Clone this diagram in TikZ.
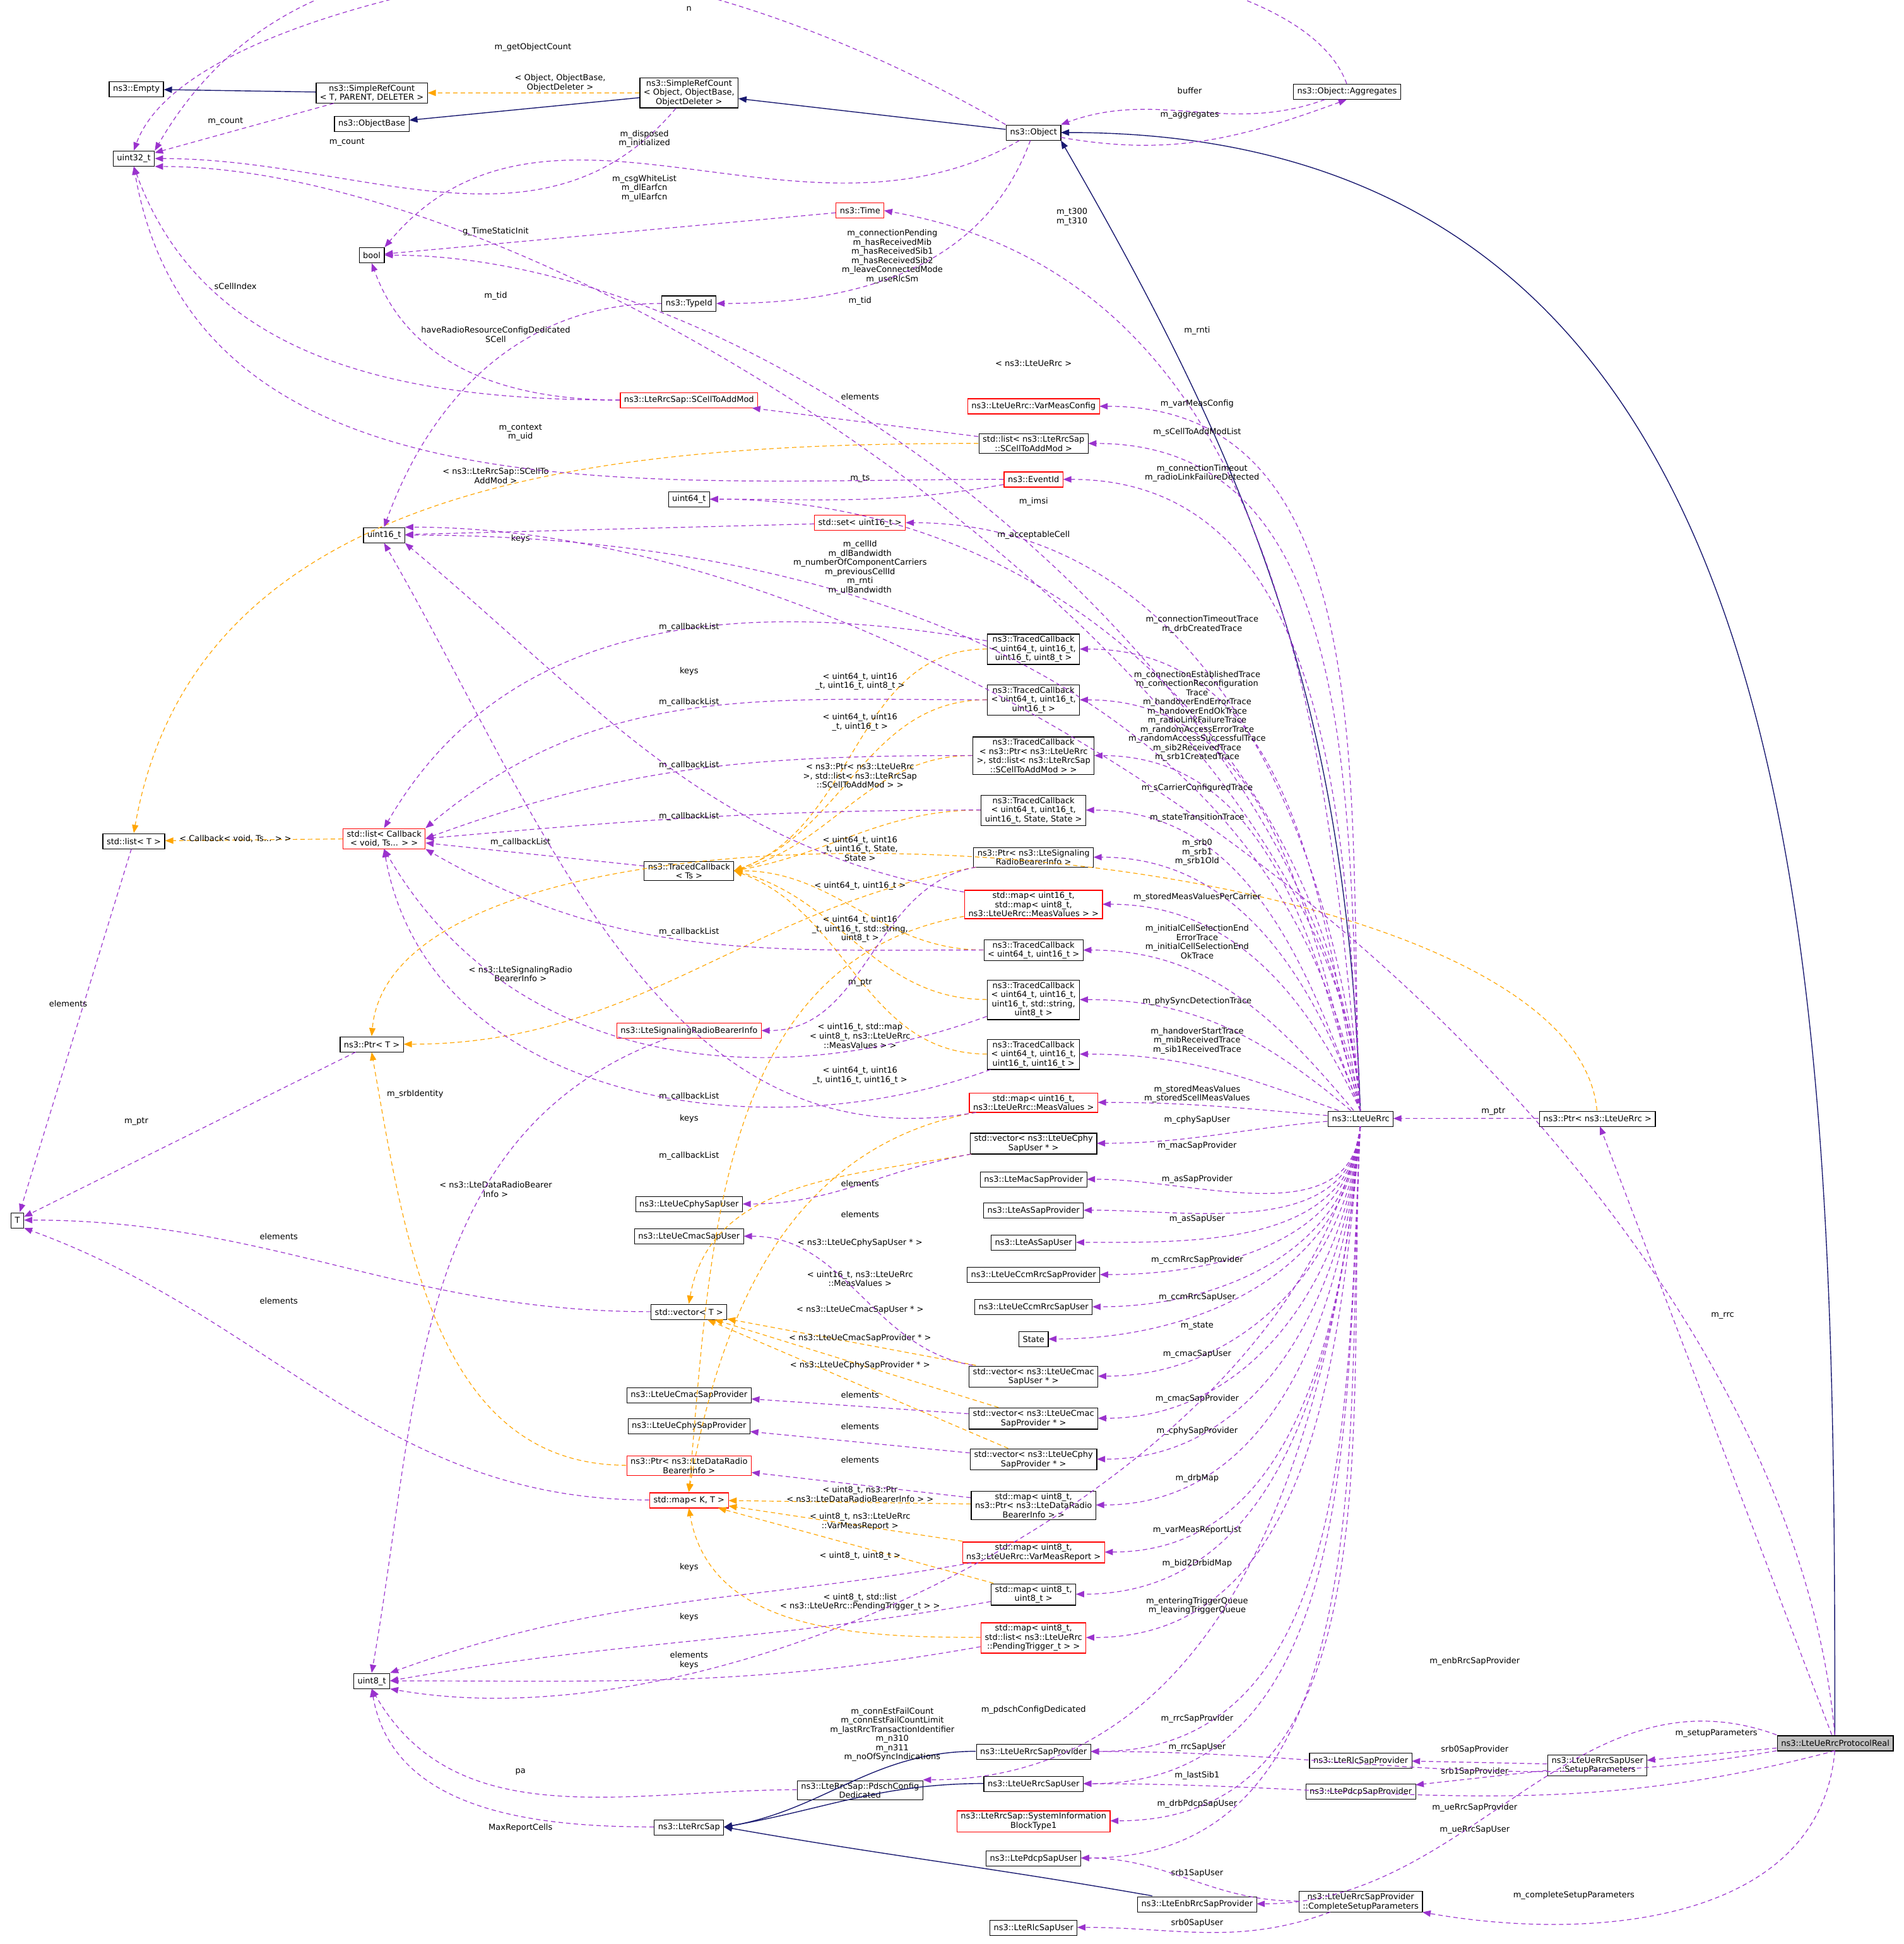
\documentclass[tikz,border=0pt]{standalone}
\usepackage{fontspec}
\setmainfont{DejaVu Sans}
\usetikzlibrary{arrows.meta}
\definecolor{memc}{HTML}{9A32CD}
\definecolor{tplc}{HTML}{FFA500}
\definecolor{inhc}{HTML}{191970}
\tikzset{
  cls/.style={draw, fill=white, line width=1.2pt, align=center, inner xsep=6pt, inner ysep=3pt, minimum height=24pt, font=\fontsize{13}{14.5}\selectfont},
  clsred/.style={cls, draw=red},
  mem/.style={draw=memc, line width=1.2pt, dash pattern=on 7pt off 5pt, -{Triangle[length=13pt,width=10pt]}},
  tpl/.style={mem, draw=tplc, -{Triangle[length=13pt,width=10pt,open,fill=tplc]}},
  inh/.style={draw=inhc, line width=1.4pt, -{Triangle[length=13pt,width=10pt]}},
  lbl/.style={align=center, inner sep=1pt, font=\fontsize{13}{14.5}\selectfont}
}
\newcommand{\elabel}[3]{\node[lbl] at (#1,#2) {#3};}
\begin{document}
\begin{tikzpicture}[x=0.25pt, y=-0.25pt, scale=7.852]
\useasboundingbox (0,0) rectangle (1536,1569);

% left side classes
\node[cls] (empty) at (110,72) {ns3::Empty};
\node[cls] (srcT) at (300,75) {ns3::SimpleRefCount\\< T, PARENT, DELETER >};
\node[cls] (objbase) at (300,100) {ns3::ObjectBase};
\node[cls] (u32) at (108,128) {uint32\_t};
\node[cls] (srcObj) at (556,75) {ns3::SimpleRefCount\\< Object, ObjectBase,\\ObjectDeleter >};
\node[cls] (object) at (834,107) {ns3::Object};
\node[cls] (aggr) at (1087,74) {ns3::Object::Aggregates};
\node[cls] (bool) at (300,206) {bool};
\node[clsred] (time) at (694,170) {ns3::Time};
\node[cls] (typeid) at (556,245) {ns3::TypeId};
\node[clsred] (scell) at (556,323) {ns3::LteRrcSap::SCellToAddMod};
\node[clsred] (varmeas) at (834,328) {ns3::LteUeRrc::VarMeasConfig};
\node[cls] (scelllist) at (834,358) {std::list< ns3::LteRrcSap\\::SCellToAddMod >};
\node[clsred] (eventid) at (834,387) {ns3::EventId};
\node[cls] (u64) at (556,403) {uint64\_t};
\node[clsred] (set16) at (694,422) {std::set< uint16\_t >};
\node[cls] (u16) at (310,432) {uint16\_t};
\node[cls] (listT) at (108,679) {std::list< T >};
\node[clsred] (listcb) at (310,677) {std::list< Callback\\< void, Ts... > >};
\node[cls] (tcTs) at (556,703) {ns3::TracedCallback\\< Ts >};
\node[cls] (ptrT) at (300,843) {ns3::Ptr< T >};
\node[clsred] (srbinfo) at (556,832) {ns3::LteSignalingRadioBearerInfo};
\node[cls] (T) at (14,985) {T};
\node[cls] (cphyuser) at (556,972) {ns3::LteUeCphySapUser};
\node[cls] (cmacuser) at (556,998) {ns3::LteUeCmacSapUser};
\node[cls] (vecT) at (556,1059) {std::vector< T >};
\node[cls] (cmacprov) at (556,1126) {ns3::LteUeCmacSapProvider};
\node[cls] (cphyprov) at (556,1151) {ns3::LteUeCphySapProvider};
\node[clsred] (ptrdrb) at (556,1183) {ns3::Ptr< ns3::LteDataRadio\\BearerInfo >};
\node[clsred] (mapKT) at (556,1211) {std::map< K, T >};
\node[cls] (u8) at (300,1357) {uint8\_t};
\node[cls] (pdsch) at (694,1445) {ns3::LteRrcSap::PdschConfig\\Dedicated};
\node[cls] (rrcsap) at (556,1475) {ns3::LteRrcSap};

% centre column
\node[cls] (tc1) at (834,524) {ns3::TracedCallback\\< uint64\_t, uint16\_t,\\uint16\_t, uint8\_t >};
\node[cls] (tc2) at (834,565) {ns3::TracedCallback\\< uint64\_t, uint16\_t,\\uint16\_t >};
\node[cls] (tc3) at (834,610) {ns3::TracedCallback\\< ns3::Ptr< ns3::LteUeRrc\\>, std::list< ns3::LteRrcSap\\::SCellToAddMod > >};
\node[cls] (tc4) at (834,654) {ns3::TracedCallback\\< uint64\_t, uint16\_t,\\uint16\_t, State, State >};
\node[cls] (ptrsrb) at (834,692) {ns3::Ptr< ns3::LteSignaling\\RadioBearerInfo >};
\node[clsred] (mapmap) at (834,730) {std::map< uint16\_t,\\std::map< uint8\_t,\\ns3::LteUeRrc::MeasValues > >};
\node[cls] (tc5) at (834,767) {ns3::TracedCallback\\< uint64\_t, uint16\_t >};
\node[cls] (tc6) at (834,807) {ns3::TracedCallback\\< uint64\_t, uint16\_t,\\uint16\_t, std::string,\\uint8\_t >};
\node[cls] (tc7) at (834,851) {ns3::TracedCallback\\< uint64\_t, uint16\_t,\\uint16\_t, uint16\_t >};
\node[clsred] (mapmeas) at (834,890) {std::map< uint16\_t,\\ns3::LteUeRrc::MeasValues >};
\node[cls] (veccphyu) at (834,923) {std::vector< ns3::LteUeCphy\\SapUser * >};
\node[cls] (macprov) at (834,952) {ns3::LteMacSapProvider};
\node[cls] (asprov) at (834,977) {ns3::LteAsSapProvider};
\node[cls] (asuser) at (834,1003) {ns3::LteAsSapUser};
\node[cls] (ccmprov) at (834,1029) {ns3::LteUeCcmRrcSapProvider};
\node[cls] (ccmuser) at (834,1055) {ns3::LteUeCcmRrcSapUser};
\node[cls] (state) at (834,1081) {State};
\node[cls] (veccmacu) at (834,1111) {std::vector< ns3::LteUeCmac\\SapUser * >};
\node[cls] (veccmacp) at (834,1145) {std::vector< ns3::LteUeCmac\\SapProvider * >};
\node[cls] (veccphyp) at (834,1178) {std::vector< ns3::LteUeCphy\\SapProvider * >};
\node[cls] (mapdrb) at (834,1215) {std::map< uint8\_t,\\ns3::Ptr< ns3::LteDataRadio\\BearerInfo > >};
\node[clsred] (mapvmr) at (834,1253) {std::map< uint8\_t,\\ns3::LteUeRrc::VarMeasReport >};
\node[cls] (map88) at (834,1287) {std::map< uint8\_t,\\uint8\_t >};
\node[clsred] (mappend) at (834,1322) {std::map< uint8\_t,\\std::list< ns3::LteUeRrc\\::PendingTrigger\_t > >};
\node[cls] (uersprov) at (834,1414) {ns3::LteUeRrcSapProvider};
\node[cls] (uersuser) at (834,1440) {ns3::LteUeRrcSapUser};
\node[clsred] (sib1) at (834,1470) {ns3::LteRrcSap::SystemInformation\\BlockType1};
\node[cls] (pdcpuser) at (834,1500) {ns3::LtePdcpSapUser};
\node[cls] (enbprov) at (966,1537) {ns3::LteEnbRrcSapProvider};
\node[cls] (rlcuser) at (834,1556) {ns3::LteRlcSapUser};

% right side
\node[cls] (uerrc) at (1098,903) {ns3::LteUeRrc};
\node[cls] (ptrrrc) at (1289,903) {ns3::Ptr< ns3::LteUeRrc >};
\node[cls, fill=black!25] (proto) at (1481,1407) {ns3::LteUeRrcProtocolReal};
\node[cls] (setup) at (1289,1425) {ns3::LteUeRrcSapUser\\::SetupParameters};
\node[cls] (rlcprov) at (1098,1421) {ns3::LteRlcSapProvider};
\node[cls] (pdcpprov) at (1098,1446) {ns3::LtePdcpSapProvider};
\node[cls] (complete) at (1098,1535) {ns3::LteUeRrcSapProvider\\::CompleteSetupParameters};

% inheritance
\draw[inh] (srcT) -- (empty);
\draw[inh] (srcObj) -- (objbase);
\draw[inh] (object) -- (srcObj);
\draw[inh] (uerrc.north) to[out=92,in=-60] (object.south east);
\draw[inh] (proto.north) to[out=90,in=0,looseness=1.1] (object.east);
\draw[inh] (uersprov) to[out=180,in=10] (rrcsap.east);
\draw[inh] (uersuser) to[out=180,in=10] (rrcsap.east);
\draw[inh] (enbprov) to[out=170,in=-10] (rrcsap.east);

% template instances
\draw[tpl] (srcObj) -- (srcT); \elabel{452}{67}{< Object, ObjectBase,\\ObjectDeleter >}
\draw[tpl] (listcb) -- (listT); \elabel{190}{677}{< Callback< void, Ts... > >}
\draw[tpl] (scelllist) to[out=180,in=80] (listT.north); \elabel{400}{384}{< ns3::LteRrcSap::SCellTo\\AddMod >}
\draw[tpl] (ptrrrc.north) to[out=95,in=85,looseness=0.6] (ptrT.north); \elabel{834}{293}{< ns3::LteUeRrc >}
\draw[tpl] (ptrsrb) to[out=190,in=0] (ptrT.east); \elabel{420}{786}{< ns3::LteSignalingRadio\\BearerInfo >}
\draw[tpl] (ptrdrb) to[out=180,in=-80] (ptrT.south); \elabel{400}{960}{< ns3::LteDataRadioBearer\\Info >}
\draw[tpl] (tc1) to[out=180,in=20] (tcTs.east); \elabel{694}{550}{< uint64\_t, uint16\\\_t, uint16\_t, uint8\_t >}
\draw[tpl] (tc2) to[out=180,in=20] (tcTs.east); \elabel{694}{583}{< uint64\_t, uint16\\\_t, uint16\_t >}
\draw[tpl] (tc3) to[out=180,in=15] (tcTs.east); \elabel{694}{626}{< ns3::Ptr< ns3::LteUeRrc\\>, std::list< ns3::LteRrcSap\\::SCellToAddMod > >}
\draw[tpl] (tc4) to[out=180,in=10] (tcTs.east); \elabel{694}{685}{< uint64\_t, uint16\\\_t, uint16\_t, State,\\State >}
\draw[tpl] (tc5) to[out=180,in=0] (tcTs.east); \elabel{694}{715}{< uint64\_t, uint16\_t >}
\draw[tpl] (tc6) to[out=180,in=-15] (tcTs.east); \elabel{694}{750}{< uint64\_t, uint16\\\_t, uint16\_t, std::string,\\uint8\_t >}
\draw[tpl] (tc7) to[out=180,in=-20] (tcTs.east); \elabel{694}{868}{< uint64\_t, uint16\\\_t, uint16\_t, uint16\_t >}
\draw[tpl] (mapmap) to[out=190,in=85] (mapKT.north); \elabel{694}{836}{< uint16\_t, std::map\\< uint8\_t, ns3::LteUeRrc\\::MeasValues > >}
\draw[tpl] (mapmeas) to[out=190,in=80] (mapKT.north); \elabel{694}{1032}{< uint16\_t, ns3::LteUeRrc\\::MeasValues >}
\draw[tpl] (mapdrb) -- (mapKT); \elabel{694}{1206}{< uint8\_t, ns3::Ptr\\< ns3::LteDataRadioBearerInfo > >}
\draw[tpl] (mapvmr) -- (mapKT); \elabel{694}{1228}{< uint8\_t, ns3::LteUeRrc\\::VarMeasReport >}
\draw[tpl] (map88) -- (mapKT); \elabel{694}{1256}{< uint8\_t, uint8\_t >}
\draw[tpl] (mappend) to[out=180,in=-80] (mapKT.south); \elabel{694}{1293}{< uint8\_t, std::list\\< ns3::LteUeRrc::PendingTrigger\_t > >}
\draw[tpl] (veccphyu) to[out=190,in=80] (vecT.north); \elabel{694}{1003}{< ns3::LteUeCphySapUser * >}
\draw[tpl] (veccmacu) -- (vecT); \elabel{694}{1057}{< ns3::LteUeCmacSapUser * >}
\draw[tpl] (veccmacp) -- (vecT); \elabel{694}{1080}{< ns3::LteUeCmacSapProvider * >}
\draw[tpl] (veccphyp) -- (vecT); \elabel{694}{1102}{< ns3::LteUeCphySapProvider * >}

% members: upper part
\draw[mem] (aggr.north) to[out=110,in=70,looseness=0.5] (u32.north); \elabel{556}{7}{n}
\draw[mem] (object.north west) to[out=150,in=60] (u32.north east); \elabel{430}{38}{m\_getObjectCount}
\draw[mem] (srcT) -- (u32); \elabel{182}{98}{m\_count}
\draw[mem] (srcObj) to[out=230,in=0] (u32.east); \elabel{280}{115}{m\_count}
\draw[mem] (object) to[out=210,in=50] (bool.north east); \elabel{520}{112}{m\_disposed\\m\_initialized}
\draw[mem] (aggr) to[out=200,in=20] (object.north east); \elabel{960}{73}{buffer}
\draw[mem] (object) to[out=-10,in=200] (aggr.south); \elabel{960}{93}{m\_aggregates}
\draw[mem] (uerrc.north) to[out=92,in=0,looseness=0.7] (u32.south east); \elabel{520}{152}{m\_csgWhiteList\\m\_dlEarfcn\\m\_ulEarfcn}
\draw[mem] (time) -- (bool); \elabel{400}{187}{g\_TimeStaticInit}
\draw[mem] (uerrc.north) to[out=94,in=0,looseness=0.8] (bool.east); \elabel{720}{207}{m\_connectionPending\\m\_hasReceivedMib\\m\_hasReceivedSib1\\m\_hasReceivedSib2\\m\_leaveConnectedMode\\m\_useRlcSm}
\draw[mem] (uerrc.north) to[out=95,in=-10] (time.east); \elabel{865}{175}{m\_t300\\m\_t310}
\draw[mem] (object) to[out=250,in=0] (typeid.east); \elabel{694}{243}{m\_tid}
\draw[mem] (typeid) to[out=180,in=70] (u16.north); \elabel{400}{239}{m\_tid}
\draw[mem] (scell) to[out=180,in=-70] (bool.south); \elabel{400}{270}{haveRadioResourceConfigDedicated\\SCell}
\draw[mem] (scell) to[out=180,in=-70] (u32.south); \elabel{190}{231}{sCellIndex}
\draw[mem] (eventid) to[out=180,in=-80] (u32.south); \elabel{420}{349}{m\_context\\m\_uid}
\draw[mem] (proto.north) to[out=95,in=0,looseness=0.8] (u16.north east); \elabel{966}{267}{m\_rnti}
\draw[mem] (scelllist) -- (scell); \elabel{694}{320}{elements}
\draw[mem] (uerrc.north) to[out=93,in=0] (varmeas.east); \elabel{966}{326}{m\_varMeasConfig}
\draw[mem] (uerrc.north) to[out=93,in=0] (scelllist.east); \elabel{966}{349}{m\_sCellToAddModList}
\draw[mem] (uerrc.north) to[out=93,in=0] (eventid.east); \elabel{970}{382}{m\_connectionTimeout\\m\_radioLinkFailureDetected}
\draw[mem] (eventid) to[out=190,in=0] (u64.east); \elabel{694}{386}{m\_ts}
\draw[mem] (uerrc.north) to[out=95,in=0] (u64.east); \elabel{834}{405}{m\_imsi}
\draw[mem] (uerrc.north) to[out=95,in=0] (set16.east); \elabel{834}{432}{m\_acceptableCell}
\draw[mem] (set16) -- (u16); \elabel{420}{435}{keys}
\draw[mem] (uerrc.north) to[out=100,in=0] (u16.east); \elabel{694}{458}{m\_cellId\\m\_dlBandwidth\\m\_numberOfComponentCarriers\\m\_previousCellId\\m\_rnti\\m\_ulBandwidth}

% members: traced callbacks
\draw[mem] (tc1) to[out=170,in=60] (listcb.north); \elabel{556}{506}{m\_callbackList}
\draw[mem] (uerrc.north) to[out=100,in=0] (tc1.east); \elabel{970}{504}{m\_connectionTimeoutTrace\\m\_drbCreatedTrace}
\draw[mem] (tc2) to[out=180,in=40] (listcb.north east); \elabel{556}{567}{m\_callbackList}
\draw[mem] (uerrc.north) to[out=105,in=0] (tc2.east); \elabel{966}{578}{m\_connectionEstablishedTrace\\m\_connectionReconfiguration\\Trace\\m\_handoverEndErrorTrace\\m\_handoverEndOkTrace\\m\_radioLinkFailureTrace\\m\_randomAccessErrorTrace\\m\_randomAccessSuccessfulTrace\\m\_sib2ReceivedTrace\\m\_srb1CreatedTrace}
\draw[mem] (tc3) to[out=180,in=20] (listcb.east); \elabel{556}{618}{m\_callbackList}
\draw[mem] (uerrc.north) to[out=105,in=0] (tc3.east); \elabel{966}{636}{m\_sCarrierConfiguredTrace}
\draw[mem] (tc4) to[out=180,in=5] (listcb.east); \elabel{556}{659}{m\_callbackList}
\draw[mem] (uerrc.north) to[out=110,in=0] (tc4.east); \elabel{966}{660}{m\_stateTransitionTrace}
\draw[mem] (tcTs) -- (listcb); \elabel{420}{680}{m\_callbackList}
\draw[mem] (uerrc.north) to[out=110,in=0] (ptrsrb.east); \elabel{966}{688}{m\_srb0\\m\_srb1\\m\_srb1Old}
\draw[mem] (uerrc.north) to[out=115,in=0] (mapmap.east); \elabel{966}{724}{m\_storedMeasValuesPerCarrier}
\draw[mem] (mapmap) to[out=170,in=-40] (u16.south east); \elabel{556}{542}{keys}
\draw[mem] (ptrsrb) to[out=190,in=0] (srbinfo.east); \elabel{694}{793}{m\_ptr}
\draw[mem] (uerrc) to[out=130,in=0] (tc5.east); \elabel{966}{760}{m\_initialCellSelectionEnd\\ErrorTrace\\m\_initialCellSelectionEnd\\OkTrace}
\draw[mem] (tc5) to[out=180,in=-30] (listcb.south east); \elabel{556}{752}{m\_callbackList}
\draw[mem] (uerrc) to[out=140,in=0] (tc6.east); \elabel{966}{808}{m\_phySyncDetectionTrace}
\draw[mem] (tc6) to[out=200,in=-60] (listcb.south); \elabel{556}{885}{m\_callbackList}
\draw[mem] (uerrc) to[out=160,in=0] (tc7.east); \elabel{966}{840}{m\_handoverStartTrace\\m\_mibReceivedTrace\\m\_sib1ReceivedTrace}
\draw[mem] (tc7) to[out=200,in=-80] (listcb.south); \elabel{556}{933}{m\_callbackList}
\draw[mem] (uerrc) to[out=175,in=0] (mapmeas.east); \elabel{966}{883}{m\_storedMeasValues\\m\_storedScellMeasValues}
\draw[mem] (mapmeas) to[out=190,in=-60] (u16.south); \elabel{556}{903}{keys}

% members: sap and lists
\draw[mem] (uerrc) to[out=185,in=0] (veccphyu.east); \elabel{966}{904}{m\_cphySapUser}
\draw[mem] (veccphyu) to[out=190,in=0] (cphyuser.east); \elabel{694}{955}{elements}
\draw[mem] (uerrc.south) to[out=-95,in=0] (macprov.east); \elabel{966}{925}{m\_macSapProvider}
\draw[mem] (uerrc.south) to[out=-95,in=0] (asprov.east); \elabel{966}{952}{m\_asSapProvider}
\draw[mem] (uerrc.south) to[out=-95,in=0] (asuser.east); \elabel{966}{984}{m\_asSapUser}
\draw[mem] (uerrc.south) to[out=-95,in=0] (ccmprov.east); \elabel{966}{1017}{m\_ccmRrcSapProvider}
\draw[mem] (uerrc.south) to[out=-95,in=0] (ccmuser.east); \elabel{966}{1047}{m\_ccmRrcSapUser}
\draw[mem] (uerrc.south) to[out=-95,in=0] (state.east); \elabel{966}{1070}{m\_state}
\draw[mem] (uerrc.south) to[out=-95,in=0] (veccmacu.east); \elabel{966}{1093}{m\_cmacSapUser}
\draw[mem] (veccmacu) to[out=170,in=0] (cmacuser.east); \elabel{694}{980}{elements}
\draw[mem] (uerrc.south) to[out=-95,in=0] (veccmacp.east); \elabel{966}{1129}{m\_cmacSapProvider}
\draw[mem] (veccmacp) -- (cmacprov); \elabel{694}{1126}{elements}
\draw[mem] (uerrc.south) to[out=-95,in=0] (veccphyp.east); \elabel{966}{1155}{m\_cphySapProvider}
\draw[mem] (veccphyp) -- (cphyprov); \elabel{694}{1151}{elements}
\draw[mem] (uerrc.south) to[out=-95,in=0] (mapdrb.east); \elabel{966}{1193}{m\_drbMap}
\draw[mem] (mapdrb) -- (ptrdrb); \elabel{694}{1178}{elements}
\draw[mem] (uerrc.south) to[out=-95,in=0] (mapvmr.east); \elabel{966}{1235}{m\_varMeasReportList}
\draw[mem] (uerrc.south) to[out=-95,in=0] (map88.east); \elabel{966}{1262}{m\_bid2DrbidMap}
\draw[mem] (mapvmr) to[out=190,in=20] (u8.north east); \elabel{556}{1265}{keys}
\draw[mem] (uerrc.south) to[out=-95,in=0] (mappend.east); \elabel{966}{1296}{m\_enteringTriggerQueue\\m\_leavingTriggerQueue}
\draw[mem] (map88) to[out=190,in=10] (u8.east); \elabel{556}{1305}{keys}
\draw[mem] (mappend) to[out=190,in=0] (u8.east); \elabel{556}{1340}{elements\\keys}
\draw[mem] (uerrc.south) to[out=-100,in=-10,looseness=0.8] (u8.south east); \elabel{720}{1400}{m\_connEstFailCount\\m\_connEstFailCountLimit\\m\_lastRrcTransactionIdentifier\\m\_n310\\m\_n311\\m\_noOfSyncIndications}
\draw[mem] (uerrc.south) to[out=-95,in=0] (pdsch.north east); \elabel{834}{1380}{m\_pdschConfigDedicated}
\draw[mem] (pdsch) to[out=180,in=-60] (u8.south); \elabel{420}{1430}{pa}
\draw[mem] (rrcsap) to[out=180,in=-80] (u8.south); \elabel{420}{1475}{MaxReportCells}
\draw[mem] (uerrc.south) to[out=-93,in=0] (uersprov.east); \elabel{966}{1387}{m\_rrcSapProvider}
\draw[mem] (uerrc.south) to[out=-93,in=0] (uersuser.east); \elabel{966}{1410}{m\_rrcSapUser}
\draw[mem] (uerrc.south) to[out=-93,in=0] (sib1.east); \elabel{966}{1433}{m\_lastSib1}
\draw[mem] (uerrc.south) to[out=-93,in=0] (pdcpuser.east); \elabel{966}{1456}{m\_drbPdcpSapUser}

% members of the left-hand templates
\draw[mem] (listT) -- (T); \elabel{55}{810}{elements}
\draw[mem] (ptrT) -- (T); \elabel{110}{905}{m\_ptr}
\draw[mem] (vecT) to[out=180,in=0] (T.east); \elabel{225}{998}{elements}
\draw[mem] (mapKT) to[out=180,in=-20] (T.south east); \elabel{225}{1050}{elements}
\draw[mem] (srbinfo) to[out=200,in=80] (u8.north); \elabel{335}{883}{m\_srbIdentity}

% protocol side
\draw[mem] (ptrrrc) -- (uerrc); \elabel{1205}{897}{m\_ptr}
\draw[mem] (proto) -- (ptrrrc); \elabel{1390}{1062}{m\_rrc}
\draw[mem] (proto.north west) to[out=160,in=0] (enbprov.east); \elabel{1190}{1341}{m\_enbRrcSapProvider}
\draw[mem] (proto) -- (setup); \elabel{1385}{1399}{m\_setupParameters}
\draw[mem] (setup) -- (rlcprov); \elabel{1190}{1412}{srb0SapProvider}
\draw[mem] (setup) -- (pdcpprov); \elabel{1190}{1430}{srb1SapProvider}
\draw[mem] (proto.south west) to[out=190,in=0] (uersprov.east); \elabel{1190}{1459}{m\_ueRrcSapProvider}
\draw[mem] (proto.south) to[out=195,in=0] (uersuser.east); \elabel{1190}{1477}{m\_ueRrcSapUser}
\draw[mem] (proto.south) to[out=-95,in=-10] (complete.south east); \elabel{1270}{1530}{m\_completeSetupParameters}
\draw[mem] (complete) to[out=180,in=0] (pdcpuser.east); \elabel{966}{1512}{srb1SapUser}
\draw[mem] (complete) to[out=200,in=0] (rlcuser.east); \elabel{966}{1552}{srb0SapUser}
\end{tikzpicture}
\end{document}
